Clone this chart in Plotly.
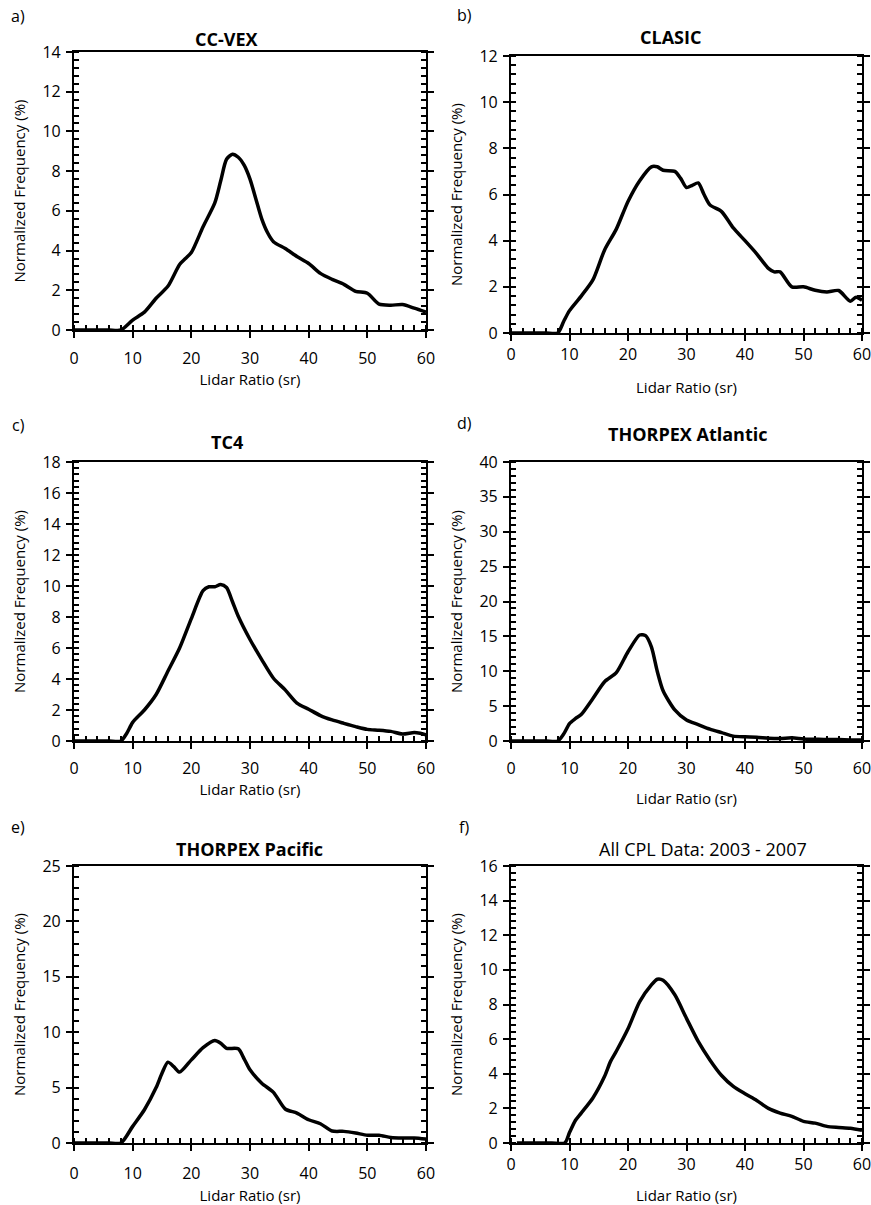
import plotly.graph_objects as go

# ---------------- data ----------------
x_ccvex = [0, 2, 4, 6, 8, 10, 12, 14, 16, 18, 19, 20, 22, 24, 25, 26, 27, 28, 29, 30, 31, 32, 33, 34, 36, 38, 40, 42, 44, 46, 48, 50, 52, 54, 56, 58, 60]
y_ccvex = [0, 0, 0, 0, 0, 0.5, 0.9, 1.6, 2.2, 3.3, 3.6, 3.9, 5.2, 6.4, 7.5, 8.6, 8.85, 8.7, 8.3, 7.6, 6.6, 5.6, 4.9, 4.45, 4.1, 3.7, 3.35, 2.85, 2.55, 2.3, 1.95, 1.85, 1.3, 1.25, 1.28, 1.1, 0.9]

x_clasic = [0, 2, 4, 6, 8, 9, 10, 12, 14, 16, 18, 20, 22, 24, 25, 26, 28, 29, 30, 31, 32, 33, 34, 36, 38, 40, 42, 44, 45, 46, 48, 50, 52, 54, 56, 58, 59, 60]
y_clasic = [0, 0, 0, 0, 0, 0.5, 0.97, 1.6, 2.3, 3.6, 4.5, 5.7, 6.6, 7.2, 7.2, 7.05, 7.0, 6.7, 6.3, 6.4, 6.5, 6.0, 5.55, 5.26, 4.55, 4.0, 3.43, 2.8, 2.65, 2.65, 2.0, 2.0, 1.85, 1.78, 1.84, 1.38, 1.55, 1.42]

x_tc4 = [0, 2, 4, 6, 8, 9, 10, 12, 14, 16, 18, 20, 22, 23, 24, 25, 26, 27, 28, 30, 32, 34, 36, 38, 40, 42, 44, 46, 48, 50, 52, 54, 56, 58, 59, 60]
y_tc4 = [0, 0, 0, 0, 0, 0.5, 1.2, 2.0, 3.0, 4.5, 6.0, 7.9, 9.7, 9.95, 9.95, 10.1, 9.9, 9.0, 8.05, 6.55, 5.25, 4.05, 3.3, 2.45, 2.05, 1.64, 1.36, 1.14, 0.93, 0.75, 0.7, 0.62, 0.45, 0.55, 0.5, 0.4]

x_atl = [0, 2, 4, 6, 8, 9, 10, 11, 12, 14, 16, 18, 20, 22, 23, 24, 25, 26, 28, 30, 32, 34, 36, 38, 40, 42, 44, 46, 48, 50, 52, 54, 56, 58, 60]
y_atl = [0, 0, 0, 0, 0, 1.0, 2.5, 3.2, 3.8, 6.1, 8.5, 9.8, 12.8, 15.2, 15.1, 13.5, 10.0, 7.2, 4.45, 3.0, 2.35, 1.7, 1.2, 0.7, 0.6, 0.55, 0.4, 0.35, 0.45, 0.3, 0.25, 0.2, 0.2, 0.15, 0.15]

x_pac = [0, 2, 4, 6, 8, 10, 12, 14, 15, 16, 17, 18, 20, 22, 24, 25, 26, 28, 29, 30, 32, 34, 36, 38, 40, 42, 44, 46, 48, 50, 52, 54, 56, 58, 60]
y_pac = [0, 0, 0, 0, 0, 1.5, 3.0, 5.0, 6.3, 7.3, 6.9, 6.4, 7.5, 8.6, 9.25, 9.0, 8.55, 8.5, 7.6, 6.6, 5.4, 4.57, 3.07, 2.7, 2.1, 1.74, 1.08, 1.05, 0.9, 0.7, 0.7, 0.5, 0.45, 0.45, 0.35]

x_all = [1, 3, 5, 7, 9.2, 10, 11, 12, 14, 16, 17, 18, 20, 22, 24, 25, 26, 28, 30, 32, 34, 36, 38, 40, 42, 44, 46, 48, 50, 52, 54, 56, 58, 60]
y_all = [0, 0, 0, 0, 0, 0.6, 1.3, 1.73, 2.6, 3.85, 4.7, 5.3, 6.6, 8.17, 9.13, 9.46, 9.4, 8.56, 7.2, 5.87, 4.8, 3.9, 3.27, 2.85, 2.46, 2.0, 1.73, 1.54, 1.25, 1.15, 0.96, 0.9, 0.85, 0.73]

titles = ["CC-VEX", "CLASIC", "TC4", "THORPEX Atlantic", "THORPEX Pacific", "All CPL Data: 2003 - 2007"]
title_bold = [True, True, True, True, True, False]
panel_letters = ["a)", "b)", "c)", "d)", "e)", "f)"]
y_max = [14, 12, 18, 40, 25, 16]
y_major = [2, 2, 2, 5, 5, 2]
y_minor = [0.4, 0.4, 0.4, 1, 1, 0.4]
x_ticks = [0, 10, 20, 30, 40, 50, 60]

series_x = [x_ccvex, x_clasic, x_tc4, x_atl, x_pac, x_all]
series_y = [y_ccvex, y_clasic, y_tc4, y_atl, y_pac, y_all]

# ---------------- layout geometry (pixels) ----------------
W, H = 871, 1205
plot_px = [  # left, right, top, bottom
    (74, 426, 52, 330),
    (511, 862, 56, 333),
    (74, 426, 462, 741),
    (511, 862, 462, 741),
    (74, 426, 866, 1143),
    (511, 862, 866, 1143),
]
title_pos = [(226, 39), (670, 37), (227, 442), (687, 434), (249, 849), (703, 849)]
letter_pos = [(18, 16), (464, 15), (18, 425), (464, 423), (18, 827), (464, 827)]
xlabel_standoff = [7, 0, 6, 6, 9, 0]
xtitle_standoff = [6, 18, 6, 15, 20, 19]

FONT = "Open Sans"
fig = go.Figure()
layout = dict(
    width=W, height=H, autosize=False,
    margin=dict(l=0, r=0, t=0, b=0, pad=0, autoexpand=False),
    paper_bgcolor="white", plot_bgcolor="white",
    showlegend=False,
    font=dict(family=FONT, color="black", size=14),
)
annotations = []

for i in range(6):
    l, r, t, b = plot_px[i]
    xn = "x" if i == 0 else f"x{i+1}"
    yn = "y" if i == 0 else f"y{i+1}"
    xk = "xaxis" if i == 0 else f"xaxis{i+1}"
    yk = "yaxis" if i == 0 else f"yaxis{i+1}"
    fig.add_trace(go.Scatter(
        x=series_x[i], y=series_y[i], mode="lines",
        line=dict(color="black", width=3.5, shape="spline", smoothing=0.7),
        xaxis=xn, yaxis=yn, hoverinfo="skip",
    ))
    layout[xk] = dict(
        domain=[l / W, r / W], anchor=yn, range=[0, 60], automargin=False,
        tickmode="array", tickvals=x_ticks,
        ticks="outside", ticklen=6, tickwidth=1.8, tickcolor="black",
        minor=dict(ticks="inside", ticklen=5, tickwidth=1.6, tickcolor="black", dtick=2, tick0=0),
        showline=True, linewidth=2.2, linecolor="black", mirror=True,
        showgrid=False, zeroline=False,
        tickfont=dict(size=16, family=FONT),
        ticklabelstandoff=xlabel_standoff[i],
        ticklabeloverflow="allow",
        title=dict(text="Lidar Ratio (sr)", font=dict(size=15, family=FONT), standoff=xtitle_standoff[i]),
        fixedrange=True,
    )
    layout[yk] = dict(
        domain=[1 - b / H, 1 - t / H], anchor=xn, range=[0, y_max[i]], automargin=False,
        tick0=0, dtick=y_major[i],
        ticks="outside", ticklen=6, tickwidth=1.8, tickcolor="black",
        minor=dict(ticks="inside", ticklen=5, tickwidth=1.6, tickcolor="black", dtick=y_minor[i], tick0=0),
        showline=True, linewidth=2.2, linecolor="black", mirror="ticks",
        showgrid=False, zeroline=False,
        tickfont=dict(size=16, family=FONT),
        ticklabelstandoff=2,
        ticklabeloverflow="allow",
        title=dict(text="Normalized Frequency (%)", font=dict(size=15, family=FONT), standoff=13),
        fixedrange=True,
    )
    tx, ty = title_pos[i]
    annotations.append(dict(
        x=tx / W, y=1 - ty / H, xref="paper", yref="paper",
        xanchor="center", yanchor="middle", showarrow=False,
        text=(f"<b>{titles[i]}</b>" if title_bold[i] else titles[i]),
        font=dict(size=18, family=FONT, color="black"),
    ))
    lx, ly = letter_pos[i]
    annotations.append(dict(
        x=lx / W, y=1 - ly / H, xref="paper", yref="paper",
        xanchor="center", yanchor="middle", showarrow=False,
        text=panel_letters[i], font=dict(size=16, family=FONT, color="black"),
    ))

layout["annotations"] = annotations
fig.update_layout(**layout)
fig.write_html(
    "out.html",
    config={"responsive": False, "displayModeBar": False},
    post_script="document.body.style.margin='0';document.body.style.padding='0';",
)
